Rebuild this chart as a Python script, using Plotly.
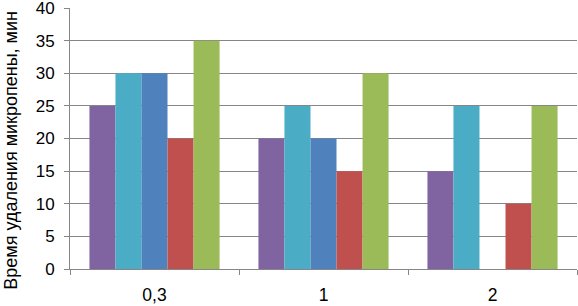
import plotly.graph_objects as go

categories = ["0,3", "1", "2"]
series_names = ["Ряд 1", "Ряд 2", "Ряд 3", "Ряд 4", "Ряд 5"]
s1 = [25, 20, 15]
s2 = [30, 25, 25]
s3 = [30, 20, None]
s4 = [20, 15, 10]
s5 = [35, 30, 25]
colors = ["#8064A2", "#4BACC6", "#4F81BD", "#C0504D", "#9BBB59"]
y_title = "Время удаления микропены, мин"

fig = go.Figure()
for name, vals, c in zip(series_names, [s1, s2, s3, s4, s5], colors):
    fig.add_trace(go.Bar(x=categories, y=vals, name=name, marker=dict(color=c, line=dict(width=0))))

fig.update_layout(
    width=578, height=306,
    margin=dict(l=70, r=1, t=8, b=37),
    paper_bgcolor="white", plot_bgcolor="white",
    barmode="group", bargap=0.23, bargroupgap=0,
    showlegend=False,
    font=dict(family="Liberation Sans, Arial, sans-serif", color="#000000"),
    xaxis=dict(
        type="category", tickson="boundaries", ticks="outside", ticklen=5,
        tickcolor="#868686", showline=True, linecolor="#868686", linewidth=1,
        showgrid=False, tickfont=dict(size=17.5), ticklabelstandoff=10,
        automargin=False,
    ),
    yaxis=dict(
        range=[0, 40], dtick=5, ticks="outside", ticklen=5, tickcolor="#868686",
        showline=True, linecolor="#868686", linewidth=1,
        showgrid=True, gridcolor="#868686", gridwidth=1, zeroline=False,
        tickfont=dict(size=17), ticklabelstandoff=6, ticklabeloverflow="allow", automargin=False,
    ),
    annotations=[dict(
        text=y_title, textangle=-90, showarrow=False,
        xref="paper", yref="paper", x=-0.118, y=0.454,
        xanchor="center", yanchor="middle", font=dict(size=18),
    )],
)

fig.write_html("out.html", config={"displayModeBar": False},
               post_script="document.body.style.margin='0';document.body.style.overflow='hidden';")
